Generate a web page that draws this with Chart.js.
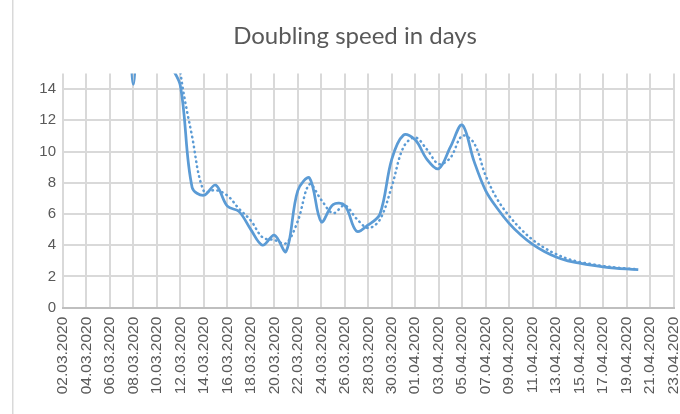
<!DOCTYPE html>
<html>
<head>
<meta charset="utf-8">
<script src="https://cdn.jsdelivr.net/npm/chart.js@4.4.1/dist/chart.umd.min.js"></script>
<style>
  html, body { margin: 0; padding: 0; background: #fff; }
  #wrap { position: relative; width: 680px; height: 414px; }
</style>
</head>
<body>
<div id="wrap"><canvas id="chart"></canvas></div>
<script>
// dates on the category axis (one per day)
const days = [
  '02.03.2020','03.03.2020','04.03.2020','05.03.2020','06.03.2020','07.03.2020','08.03.2020',
  '09.03.2020','10.03.2020','11.03.2020','12.03.2020','13.03.2020','14.03.2020','15.03.2020',
  '16.03.2020','17.03.2020','18.03.2020','19.03.2020','20.03.2020','21.03.2020','22.03.2020',
  '23.03.2020','24.03.2020','25.03.2020','26.03.2020','27.03.2020','28.03.2020','29.03.2020',
  '30.03.2020','31.03.2020','01.04.2020','02.04.2020','03.04.2020','04.04.2020','05.04.2020',
  '06.04.2020','07.04.2020','08.04.2020','09.04.2020','10.04.2020','11.04.2020','12.04.2020',
  '13.04.2020','14.04.2020','15.04.2020','16.04.2020','17.04.2020','18.04.2020','19.04.2020',
  '20.04.2020','21.04.2020','22.04.2020','23.04.2020'
];

// doubling time in days (values above 15 run off the top of the plot)
const doubling = [
  null, null, null, null, null, 40, 14.3,
  40, 30, 16, 14.2, 7.7, 7.2, 7.85,
  6.5, 6.15, 5.0, 4.0, 4.65, 3.6, 7.5,
  8.3, 5.5, 6.6, 6.55, 4.9, 5.3, 6.0,
  9.5, 11.05, 10.75, 9.5, 8.9, 10.3, 11.7,
  9.4, 7.5, 6.35, 5.4, 4.65, 4.05, 3.6,
  3.25, 3.0, 2.85, 2.72, 2.62, 2.54, 2.48,
  2.43, null, null, null
];

// dotted trend line (2-day moving average)
const trend = [
  null, null, null, null, null, null, 27.15,
  27.15, 35, 23, 15.1, 10.95, 7.45, 7.53,
  7.18, 6.33, 5.58, 4.5, 4.33, 4.13, 5.55,
  7.9, 6.9, 6.05, 6.55, 5.7, 5.1, 5.65,
  7.75, 10.28, 10.9, 10.13, 9.2, 9.6, 11.0,
  10.55, 8.45, 6.93, 5.88, 5.03, 4.35, 3.83,
  3.43, 3.13, 2.93, 2.79, 2.67, 2.58, 2.51,
  2.46, null, null, null
];

const yTicks = [0, 2, 4, 6, 8, 10, 12, 14];

const blue = '#5b9bd5';
const grid = '#d9d9d9';
const txt = '#595959';

// thin frame line on the left like the spreadsheet chart border
const frame = {
  id: 'frame',
  beforeDraw(chart) {
    const c = chart.ctx;
    c.save();
    c.strokeStyle = grid;
    c.lineWidth = 1.5;
    c.beginPath();
    c.moveTo(12.75, 0);
    c.lineTo(12.75, chart.height);
    c.stroke();
    c.restore();
  }
};

new Chart(document.getElementById('chart'), {
  type: 'line',
  data: {
    labels: days,
    datasets: [
      {
        data: doubling,
        borderColor: blue,
        borderWidth: 2.75,
        pointRadius: 0,
        tension: 0.35,
        clip: 0
      },
      {
        data: trend,
        borderColor: blue,
        borderWidth: 2.5,
        borderDash: [0.5, 4.5],
        borderCapStyle: 'round',
        pointRadius: 0,
        tension: 0.35,
        clip: 0
      }
    ]
  },
  options: {
    responsive: true,
    maintainAspectRatio: false,
    animation: false,
    elements: { line: { capBezierPoints: false } },
    layout: { padding: { left: 36.5, right: 6.5, top: 0, bottom: 0 } },
    plugins: {
      legend: { display: false },
      tooltip: { enabled: false },
      title: {
        display: true,
        text: 'Doubling speed in days',
        color: txt,
        font: { family: 'Lato', size: 24, weight: 'normal', lineHeight: 1.2 },
        padding: { top: 21.6, bottom: 23 }
      }
    },
    scales: {
      x: {
        offset: false,
        grid: {
          color: grid,
          lineWidth: 2,
          drawTicks: false
        },
        border: { color: '#bfbfbf', width: 2 },
        ticks: {
          autoSkip: false,
          minRotation: 90,
          maxRotation: 90,
          padding: 9,
          color: txt,
          font: { family: 'Liberation Sans', size: 15.5 },
          callback: function (val, i) {
            return i % 2 === 0 ? days[i] : null;
          }
        },
        afterFit: function (scale) {
          scale.height = 106.3;
          scale.paddingLeft = 0;
          scale.paddingRight = 0;
        }
      },
      y: {
        min: 0,
        max: 15,
        grid: {
          color: ctx => ctx.tick && ctx.tick.value === 0 ? '#bfbfbf' : grid,
          lineWidth: 2,
          drawTicks: false
        },
        border: { display: false },
        afterBuildTicks: function (scale) {
          scale.ticks = yTicks.map(v => ({ value: v }));
        },
        ticks: {
          padding: 7,
          color: txt,
          font: { family: 'Liberation Sans', size: 15 }
        },
        afterFit: function (scale) { scale.width = 26.5; }
      }
    }
  },
  plugins: [frame]
});
</script>
</body>
</html>
